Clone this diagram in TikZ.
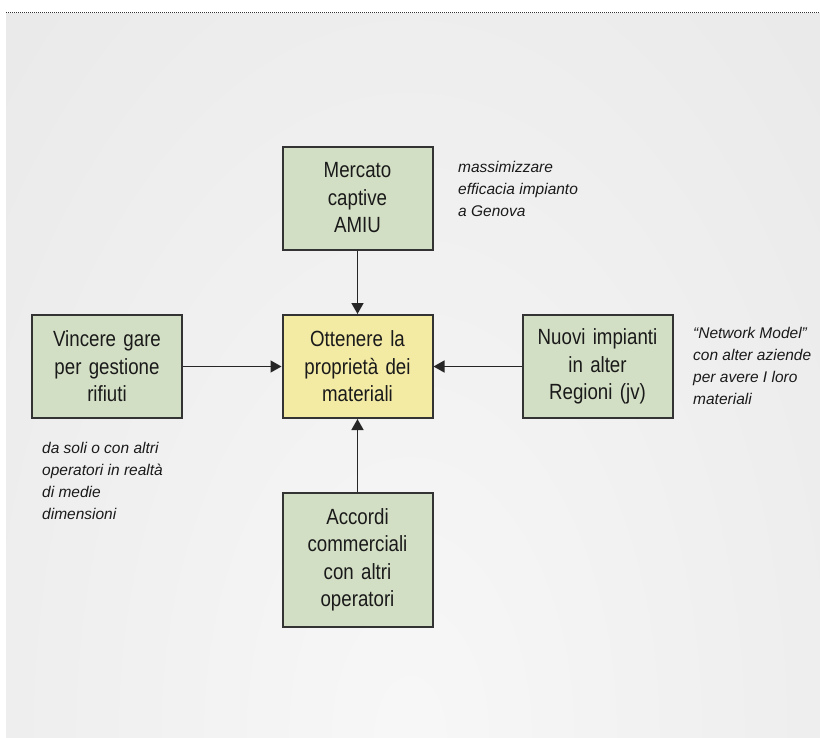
\documentclass[tikz,border=0pt]{standalone}
\usepackage{fontspec}
\setmainfont{Liberation Sans}
\newfontfamily\boxfont[FakeStretch=0.85]{Liberation Sans}
\usetikzlibrary{arrows.meta}

\definecolor{boxgreen}{HTML}{D3DFC4}
\definecolor{boxyellow}{HTML}{F3EAA4}
\definecolor{boxline}{HTML}{333333}
\definecolor{inktext}{HTML}{1A1A1A}

\tikzset{
    goalbox/.style={draw=boxline, line width=2pt, fill=boxgreen, minimum width=150pt,
        minimum height=103pt, inner sep=0pt, text width=148pt, align=center,
        font=\boxfont\fontsize{22}{27.5}\selectfont, text=inktext},
    notetext/.style={anchor=base west, inner sep=0pt, align=left,
        font=\itshape\fontsize{15.5}{22}\selectfont, text=inktext},
    link/.style={line width=1.5pt, draw=black!85, -{Triangle[length=11pt,width=12pt]}}
}

\begin{document}
\begin{tikzpicture}[x=1pt,y=-1pt]
    % Define page size
    \useasboundingbox (0,0) rectangle (820,737);

    % Draw the background
    \begin{scope}
        \clip (6,13) rectangle (820,737);
        \shade[inner color=black!3, outer color=black!10] (410,737) ellipse (760pt and 1300pt);
    \end{scope}
    \draw[dash pattern=on 1pt off 1pt, line width=1.5pt, black!80] (6,12.5) -- (820,12.5);

    % Define the box centres
    \coordinate (T) at (357.5,198);
    \coordinate (M) at (357.5,366.5);
    \coordinate (L) at (107,366.5);
    \coordinate (R) at (597.5,366.5);
    \coordinate (B) at (357.5,560);

    % Draw the boxes
    \node[goalbox] (mercato) at (T) {Mercato\\captive\\AMIU};
    \node[goalbox, fill=boxyellow] (obiettivo) at (M) {Ottenere la\\propriet\`a dei\\materiali};
    \node[goalbox] (gare) at (L) {Vincere gare\\per gestione\\rifiuti};
    \node[goalbox] (impianti) at (R) {Nuovi impianti\\in alter\\Regioni (jv)};
    \node[goalbox, minimum height=134pt] (accordi) at (B) {Accordi\\commerciali\\con altri\\operatori};

    % Draw the arrows
    \draw[link] (mercato) -- (obiettivo);
    \draw[link] (gare) -- (obiettivo);
    \draw[link] (impianti) -- (obiettivo);
    \draw[link] (accordi) -- (obiettivo);

    % Label notes (base = last line)
    \node[notetext] (notaGenova) at (458,216) {massimizzare\\efficacia impianto\\a Genova};
    \node[notetext] (notaGare) at (42,519) {da soli o con altri\\operatori in realt\`a\\di medie\\dimensioni};
    \node[notetext] (notaNetwork) at (693,404) {``Network Model''\\con alter aziende\\per avere I loro\\materiali};

\end{tikzpicture}
\end{document}
